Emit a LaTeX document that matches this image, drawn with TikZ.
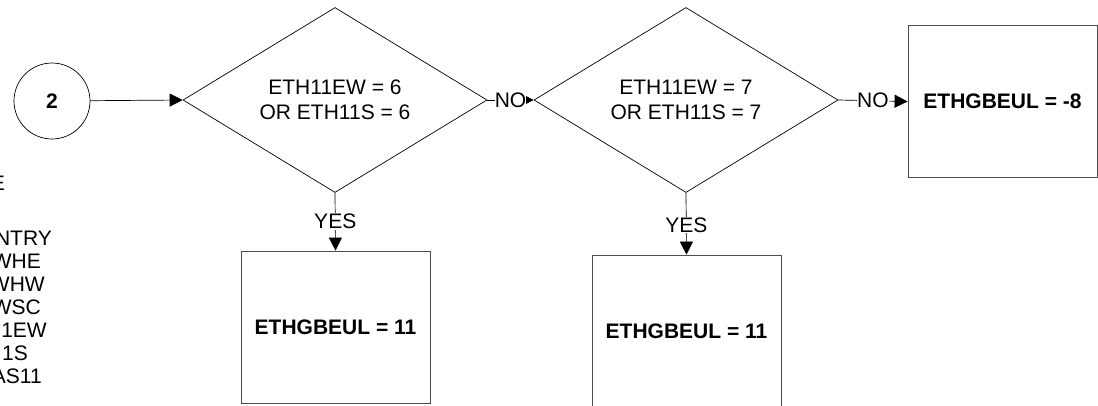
\documentclass[tikz,border=0pt]{standalone}
\usepackage{fontspec}
\setmainfont{Liberation Sans}
\usetikzlibrary{shapes.geometric,arrows.meta}
\begin{document}
\begin{tikzpicture}[x=1pt,y=-1pt,
  every node/.style={font=\fontsize{21}{25}\selectfont},
  dec/.style={draw, diamond, shape aspect=1.65, inner sep=0pt, minimum width=304pt, minimum height=185pt, align=center, line width=0.7pt},
  box/.style={draw=black!70, rectangle, minimum width=189pt, minimum height=152pt, font=\fontsize{21}{25}\selectfont\bfseries, line width=0.8pt},
  lbl/.style={fill=white, inner sep=1pt},
  conn/.style={line width=0.7pt},
  big/.style={conn, -{Triangle[length=13pt,width=13pt]}},
  small/.style={conn, -{Triangle[length=8pt,width=8pt]}},
  frag/.style={anchor=east, inner sep=0pt}
]
\useasboundingbox (0,0) rectangle (1098,405);
\clip (0,0) rectangle (1098,405);
\fill[white] (0,0) rectangle (1098,405);

% left clipped text fragments
\node[frag] (l1) at (5,183) {E};
\node[frag] (l2) at (52,238) {NTRY};
\node[frag] (l3) at (41,261) {WHE};
\node[frag] (l4) at (45,284) {WHW};
\node[frag] (l5) at (41,307) {WSC};
\node[frag] (l6) at (47,330) {1EW};
\node[frag] (l7) at (28,353) {1S};
\node[frag] (l8) at (42,376) {AS11};

% start connector
\node[draw, circle, minimum size=76pt, inner sep=0pt, line width=0.7pt, font=\fontsize{21}{25}\selectfont\bfseries] (c) at (52,101) {2};

% decisions
\node[dec] (d1) at (335,100) {ETH11EW = 6\\OR ETH11S = 6};
\node[dec] (d2) at (686,100) {ETH11EW = 7\\OR ETH11S = 7};

% outcome boxes
\node[box] (b1) at (335.5,327) {ETHGBEUL = 11};
\node[box] (b2) at (686.5,331) {ETHGBEUL = 11};
\node[box] (b3) at (1002.5,101.5) {ETHGBEUL = -8};

% connectors
\draw[big] (c) -- (d1.west);
\draw[small] (d1.east) -- node[lbl, inner sep=0pt] {NO} (d2.west);
\draw[big] (d2.east) -- node[lbl, inner sep=0pt] {NO} (b3.west);
\draw[big] (d1.south) -- node[lbl] {YES} (b1.north);
\draw[big] (d2.south) -- node[lbl, pos=0.52] {YES} (b2.north);
\end{tikzpicture}
\end{document}
